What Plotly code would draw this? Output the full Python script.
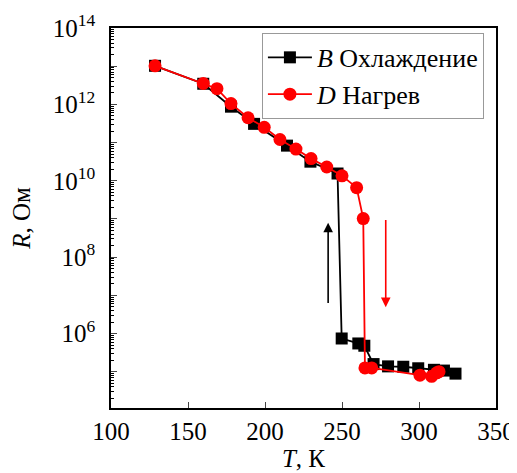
import plotly.graph_objects as go

# Cooling (B) data
T_cool = [128.6, 159.9, 177.9, 192.9, 214.3, 229.5, 247.1, 249.8, 260.6, 264.5,
          270.5, 279.9, 289.8, 299.5, 309.7, 316.2, 323.7]
logR_cool = [13.01, 12.54, 11.94, 11.49, 10.92, 10.50, 10.19, 5.87, 5.74, 5.68,
             5.20, 5.14, 5.13, 5.09, 5.05, 5.03, 4.95]
R_cool = [10 ** v for v in logR_cool]

# Heating (D) data
T_heat = [128.6, 159.9, 168.8, 177.9, 189.0, 199.5, 209.7, 220.1, 229.9, 240.1,
          250.0, 259.5, 263.8, 264.9, 269.3, 300.6, 308.2, 311.5, 313.0]
logR_heat = [13.01, 12.55, 12.41, 12.02, 11.65, 11.40, 11.08, 10.83, 10.58, 10.36,
             10.13, 9.82, 9.01, 5.10, 5.10, 4.91, 4.88, 4.97, 5.00]
R_heat = [10 ** v for v in logR_heat]

# Axis ticks
x_ticks = [100, 150, 200, 250, 300, 350]
y_exps = list(range(4, 15))
y_tickvals = [10 ** e for e in y_exps]
y_ticktext = [f"10<sup>{e}</sup>" if e % 2 == 0 and e >= 6 else "" for e in y_exps]

# Arrows (T, logR start -> logR end)
arrow_cool = (241.0, 6.76, 8.9)
arrow_heat = (278.4, 9.01, 6.69)

FONT = "Liberation Serif"

fig = go.Figure()
fig.add_trace(go.Scatter(
    x=T_cool, y=R_cool, mode="lines+markers",
    name="<i>B</i> Охлаждение",
    line=dict(color="black", width=1.8),
    marker=dict(symbol="square", size=12, color="black"),
))
fig.add_trace(go.Scatter(
    x=T_heat, y=R_heat, mode="lines+markers",
    name="<i>D</i> Нагрев",
    line=dict(color="#ff0000", width=1.8),
    marker=dict(symbol="circle", size=13, color="#ff0000"),
))

for (t, y0, y1), col in [(arrow_cool, "black"), (arrow_heat, "#ff0000")]:
    fig.add_annotation(
        x=t, y=y1, ax=t, ay=y0, xref="x", yref="y", axref="x", ayref="y",
        showarrow=True, arrowhead=2, arrowsize=1.2, arrowwidth=1.6,
        arrowcolor=col, text="",
    )

# page body adds an 8px offset, so the figure is 8px smaller and margins shifted
fig.update_layout(
    width=509, height=465,
    margin=dict(l=103, r=21, t=20, b=65),
    paper_bgcolor="white", plot_bgcolor="white",
    font=dict(family=FONT, size=25, color="black"),
    showlegend=True,
    legend=dict(
        x=0.392, y=0.987, xanchor="left", yanchor="top",
        bordercolor="#999999", borderwidth=1, bgcolor="white",
        font=dict(family=FONT, size=26),
        tracegroupgap=0, itemwidth=44,
    ),
)
fig.update_xaxes(
    range=[100, 350], tickvals=x_ticks, ticks="inside", ticklen=6,
    showline=True, linecolor="black", linewidth=1.5, mirror=True,
    showgrid=False, zeroline=False, automargin=False,
    title=dict(text="<i>T</i>, К", font=dict(family=FONT, size=25), standoff=4),
    tickfont=dict(family=FONT, size=25),
)
fig.update_yaxes(
    type="log", range=[4.05, 14], tickmode="array",
    tickvals=y_tickvals, ticktext=y_ticktext,
    ticks="inside", ticklen=6,
    minor=dict(ticks="inside", ticklen=3, dtick="D1", tickcolor="black"),
    showline=True, linecolor="black", linewidth=1.5, mirror=True,
    showgrid=False, zeroline=False, automargin=False,
    ticklabelstandoff=9,
    title=dict(text="<i>R</i>, Ом", font=dict(family=FONT, size=25), standoff=28),
    tickfont=dict(family=FONT, size=25),
)

fig.write_html("out.html")
